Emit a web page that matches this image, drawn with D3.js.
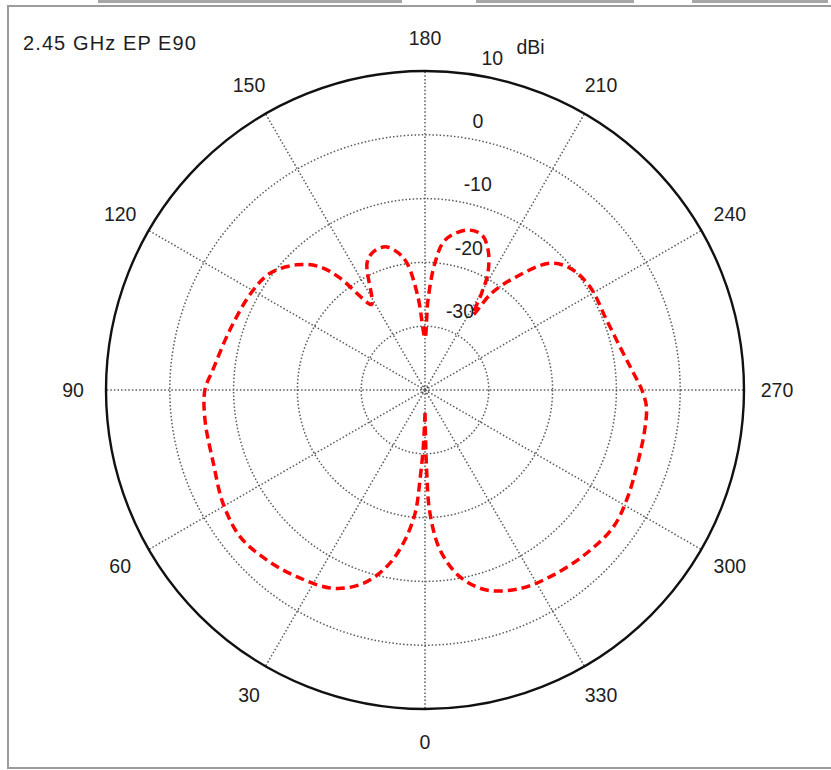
<!DOCTYPE html>
<html>
<head>
<meta charset="utf-8">
<script src="https://cdn.jsdelivr.net/npm/d3@7"></script>
<style>
  html, body { margin: 0; padding: 0; background: #fff; }
  svg { display: block; }
  text { font-family: "Liberation Sans", Arial, sans-serif; fill: #1e1e1e; }
</style>
</head>
<body>
<svg id="chart" width="831" height="770"></svg>
<script>
// ---- data ----
const title = "2.45 GHz EP E90";
const unitLabel = "dBi";
const angleTicks = [0, 30, 60, 90, 120, 150, 180, 210, 240, 270, 300, 330];
const ringTicks = [-30, -20, -10, 0, 10];
const angles = [0, 1.7, 3.2, 4.6, 8.1, 12.2, 17.7, 24.8, 34.5, 43, 51.6, 60.7, 70.9, 82.2, 90,
  95.4, 107.1, 119.5, 127, 134.3, 139.5, 142.8, 145.6, 148,
  155.5, 159.4, 164.4, 168.5, 171.9, 175.7, 180,
  181.9, 184.5, 187.6, 194.6, 200.1, 204.2, 208.3, 210.3, 212.6,
  214.5, 219, 224.6, 230, 237.9, 248.9, 259.5, 265.4, 270, 274.3, 280.3, 289.9,
  298.6, 306, 315.3, 325.3, 334.4, 342.9, 349.4, 354.6, 357.7, 358.8, 360];
const gains = [-36.4, -31.1, -25.9, -20.6, -15.7, -11.7, -8.2, -5.75, -4.5, -3.6, -3.0, -3.7, -4.9, -5.2, -5.5,
  -6.6, -8.0, -8.8, -9.6, -11.9, -14.6, -18, -22.5, -24.2,
  -18.1, -16.9, -16.7, -17.9, -19.9, -25.4, -31.8,
  -25.9, -20, -16.3, -14.1, -14.1, -15.9, -19.2, -22.4, -26,
  -21.6, -17.1, -12.1, -10.3, -9.5, -9.5, -8.4, -7.2, -6.0, -5.2, -5.0, -4.7,
  -4.0, -3.5, -4.0, -4.7, -5.5, -7.2, -10.2, -14.8, -20.7, -27, -36.4];

// ---- layout ----
const cx = 425, cy = 390, R = 319;
const svg = d3.select("#chart");

// window decorations (frame + tab strips)
const tabs = [[98, 402], [476, 634], [692, 828]];
svg.selectAll("rect.tab").data(tabs).enter().append("rect")
  .attr("x", d => d[0]).attr("y", 0).attr("width", d => d[1] - d[0]).attr("height", 3)
  .attr("fill", "#a6a6a6");
svg.append("rect").attr("x", 8).attr("y", 6).attr("width", 840).attr("height", 762)
  .attr("fill", "none").attr("stroke", "#9c9c9c").attr("stroke-width", 2);

const r = d3.scaleLinear().domain([-40, 10]).range([0, R]);
const toRad = d => (d + 180) * Math.PI / 180; // 0 at bottom, clockwise on screen
const pt = (deg, rad) => [cx + rad * Math.sin(toRad(deg)), cy - rad * Math.cos(toRad(deg))];

const g = svg.append("g");

// grid rings
const gridStyle = s => s.attr("fill", "none").attr("stroke", "#5a5a5a").attr("stroke-width", 1.5)
  .attr("stroke-dasharray", "1.5,2.1");
g.selectAll("circle.ring").data(ringTicks.filter(v => v < 10)).enter().append("circle")
  .attr("cx", cx).attr("cy", cy).attr("r", d => r(d)).call(gridStyle);
g.append("circle").attr("cx", cx).attr("cy", cy).attr("r", 3.5).call(gridStyle);

// spokes
g.selectAll("line.spoke").data(angleTicks).enter().append("line")
  .attr("x1", cx).attr("y1", cy)
  .attr("x2", d => pt(d, R)[0]).attr("y2", d => pt(d, R)[1])
  .call(gridStyle);

// outer circle
g.append("circle").attr("cx", cx).attr("cy", cy).attr("r", r(10))
  .attr("fill", "none").attr("stroke", "#111").attr("stroke-width", 2.4);

// pattern
const pts = angles.map((a, i) => ({a, v: gains[i]}));
const line = d3.lineRadial()
  .angle(d => toRad(d.a))
  .radius(d => r(d.v))
  .curve(d3.curveCatmullRom.alpha(0.5));
g.append("path").datum(pts)
  .attr("transform", `translate(${cx},${cy})`)
  .attr("d", line)
  .attr("fill", "none").attr("stroke", "#ff0000").attr("stroke-width", 3.5)
  .attr("stroke-dasharray", "9,5");

// angle labels
g.selectAll("text.ang").data(angleTicks).enter().append("text")
  .attr("x", d => pt(d, R + 33)[0]).attr("y", d => pt(d, R + 33)[1])
  .attr("text-anchor", "middle").attr("dominant-baseline", "central")
  .style("font-size", "19.5px").text(d => d);

// ring labels
const labAng = 188;
g.selectAll("text.ringlab").data(ringTicks).enter().append("text")
  .attr("x", d => pt(labAng, r(d))[0] + 12).attr("y", d => pt(labAng, r(d))[1] - 16)
  .attr("dominant-baseline", "central")
  .style("font-size", "19.5px").text(d => d);
g.append("text")
  .attr("x", pt(labAng, r(10))[0] + 47).attr("y", pt(labAng, r(10))[1] - 27)
  .attr("dominant-baseline", "central")
  .style("font-size", "19.5px").text(unitLabel);

// title
svg.append("text").attr("x", 23).attr("y", 43).attr("dominant-baseline", "central")
  .style("font-size", "20px").style("letter-spacing", "1.1px").text(title);
</script>
</body>
</html>
